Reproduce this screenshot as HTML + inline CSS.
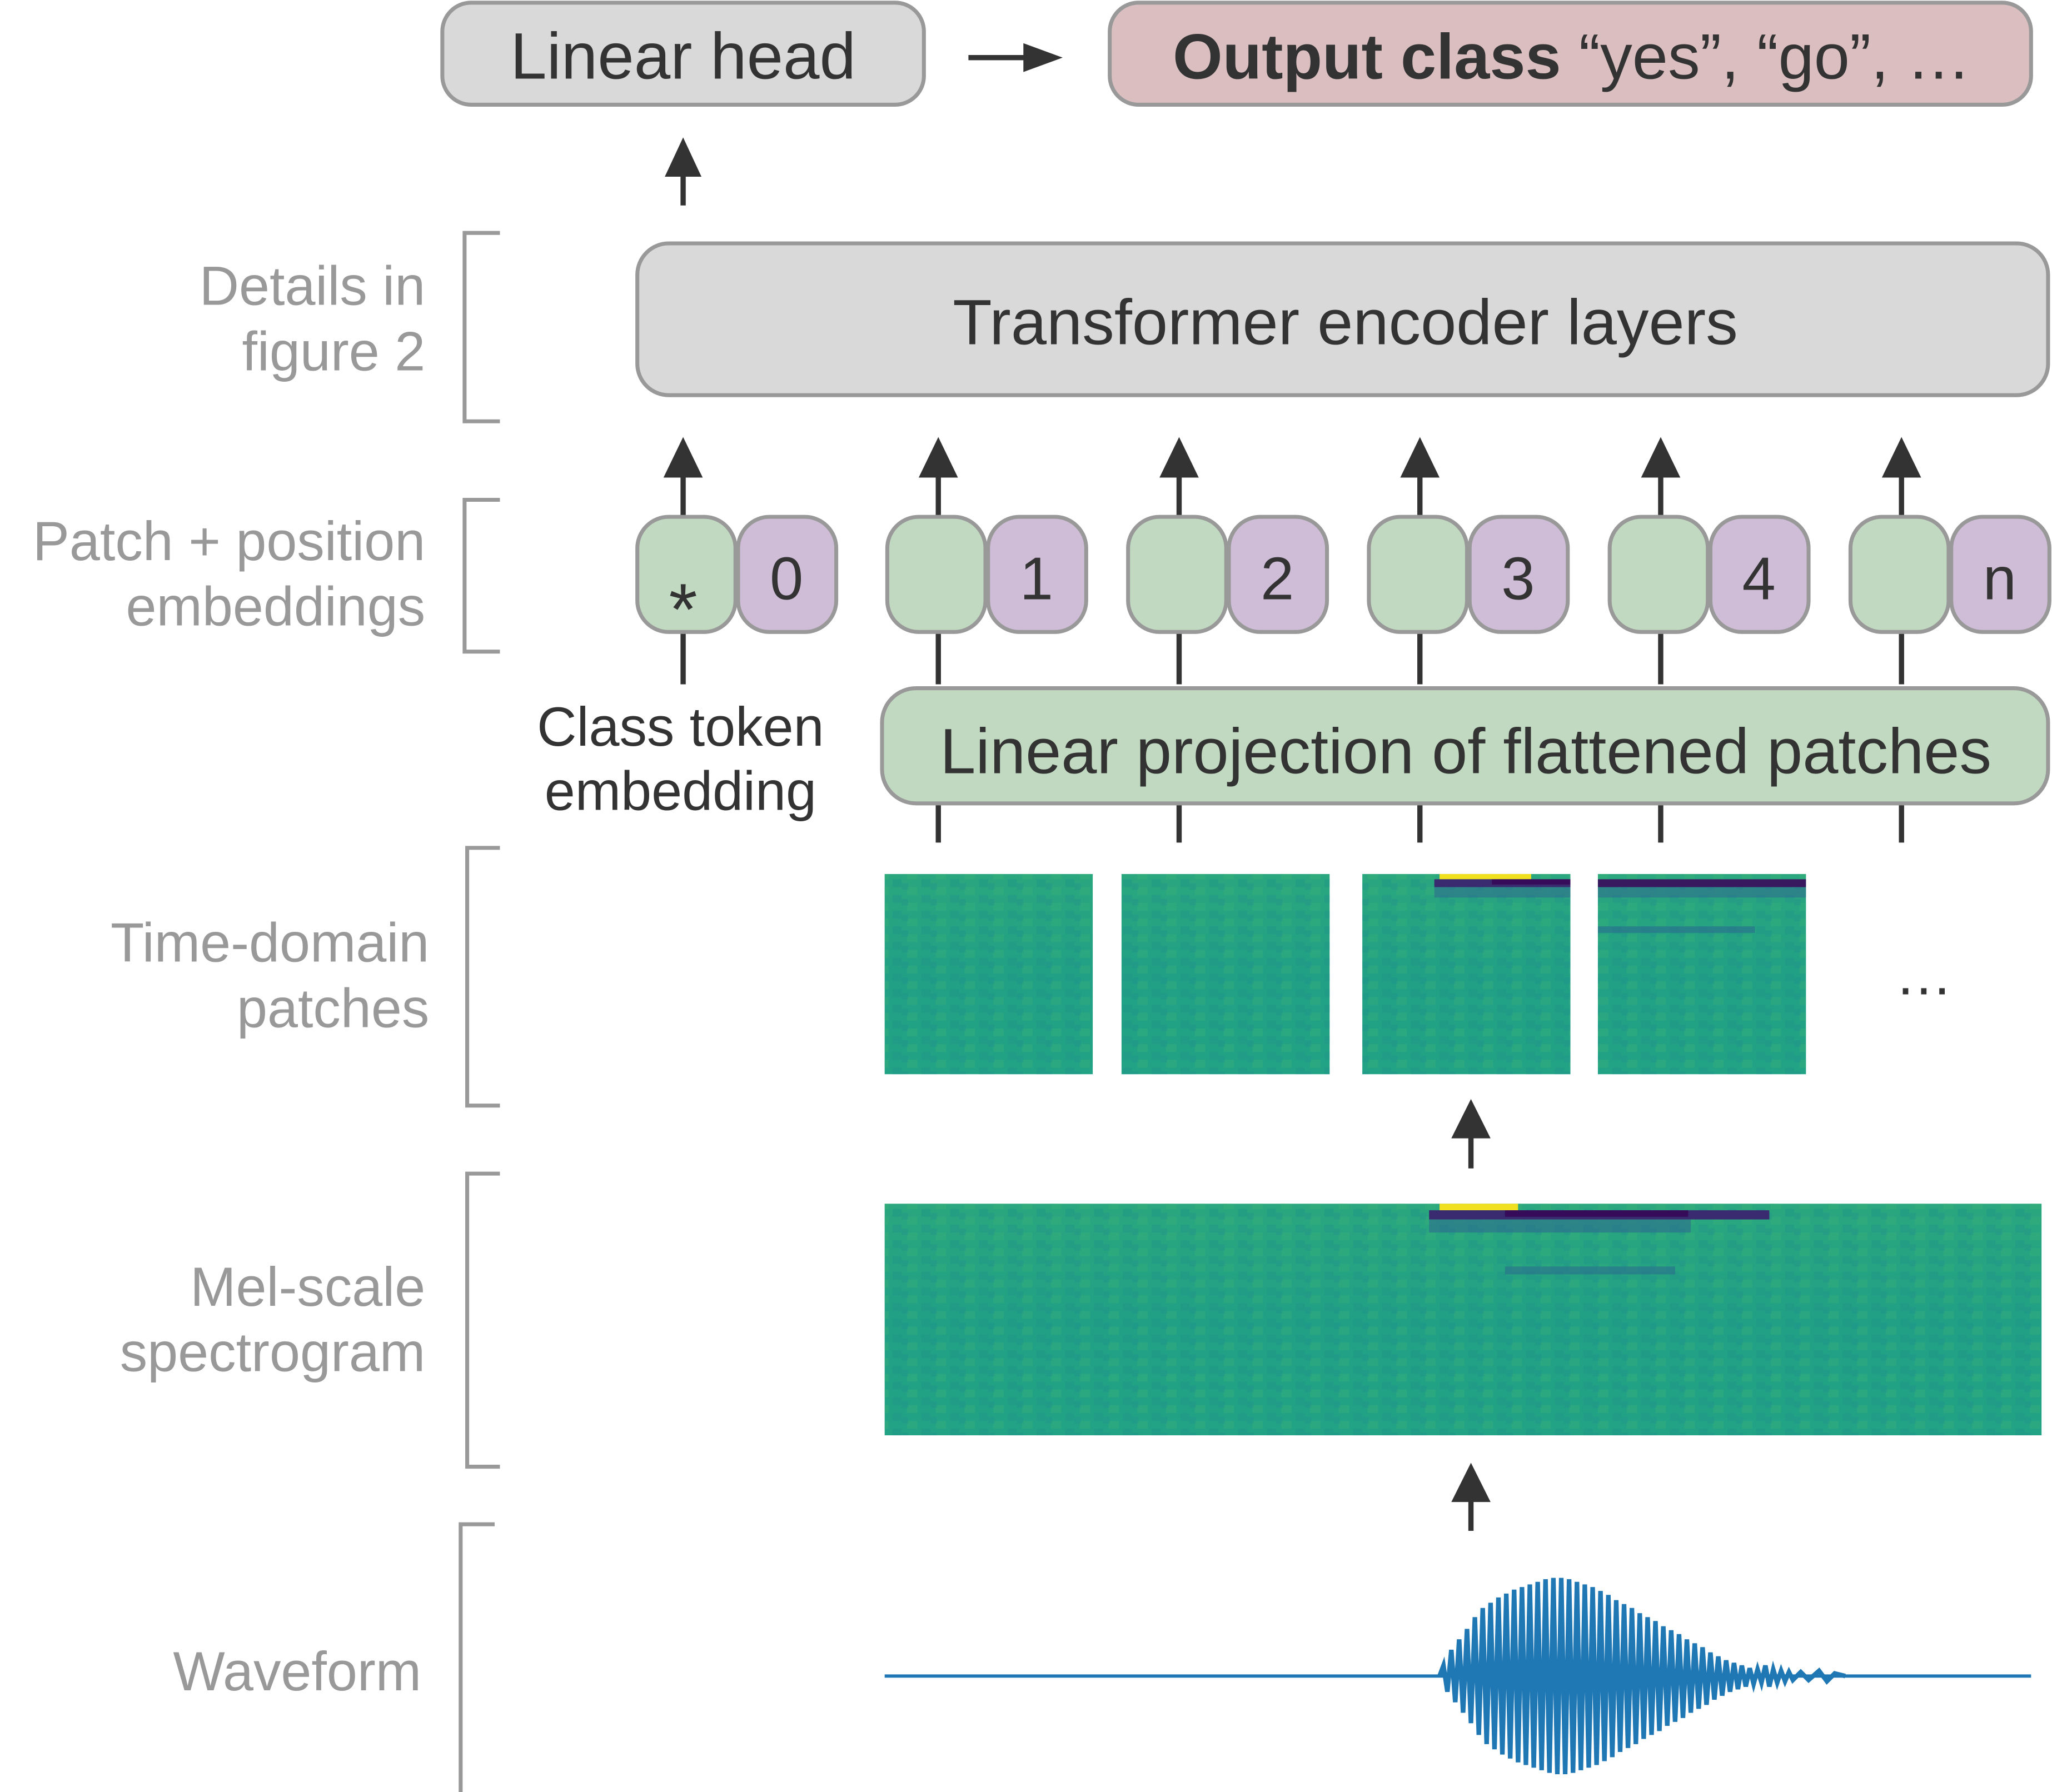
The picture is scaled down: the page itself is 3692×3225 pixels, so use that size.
<!DOCTYPE html>
<html><head><meta charset="utf-8"><style>
html,body{margin:0;padding:0;background:#fff}
svg{display:block}
text{font-family:"Liberation Sans",sans-serif}
</style></head><body>
<svg width="3692" height="3225" viewBox="0 0 1568 1369.6" xmlns="http://www.w3.org/2000/svg">
<defs>
<linearGradient id="sg" x1="0" y1="0" x2="0" y2="1">
<stop offset="0" stop-color="#2aa77e"/><stop offset="0.5" stop-color="#21a085"/><stop offset="1" stop-color="#22a385"/>
</linearGradient>
<pattern id="nz" width="22" height="12" patternUnits="userSpaceOnUse">
<rect width="22" height="12" fill="none"/>
<rect x="0" y="0" width="7" height="6" fill="#1f9688" opacity="0.5"/>
<rect x="11" y="6" width="8" height="6" fill="#35b07a" opacity="0.45"/>
<rect x="7" y="3" width="5" height="5" fill="#1e8f8b" opacity="0.35"/>
</pattern>
</defs>
<g fill="#999" font-size="42" text-anchor="end">
<text x="325" y="233">Details in</text>
<text x="325" y="283">figure 2</text>
<text x="325" y="428">Patch + position</text>
<text x="325" y="478">embeddings</text>
<text x="328" y="735">Time-domain</text>
<text x="328" y="785">patches</text>
<text x="325" y="998">Mel-scale</text>
<text x="325" y="1048">spectrogram</text>
<text x="322" y="1292">Waveform</text>
</g>
<g fill="none" stroke="#999" stroke-width="3">
<path d="M382,178 H355 V322 H382"/>
<path d="M382,382 H355 V498 H382"/>
<path d="M382,648 H357 V845 H382"/>
<path d="M382,897 H357 V1121 H382"/>
<path d="M378,1165 H352 V1370"/>
</g>
<rect x="338" y="2" width="368" height="78" rx="22" fill="#d9d9d9" stroke="#999" stroke-width="3"/>
<text x="522" y="60" font-size="50" fill="#333" text-anchor="middle">Linear head</text>
<rect x="848" y="2" width="704" height="78" rx="22" fill="#dbbfc0" stroke="#999" stroke-width="3"/>
<text x="1201" y="60" font-size="49" fill="#333" text-anchor="middle"><tspan font-weight="bold">Output class</tspan> “yes”, “go”, …</text>
<g stroke="#333" stroke-width="4" fill="#333">
<line x1="740" y1="44" x2="785" y2="44"/><path d="M782,33 L812,44 L782,55 Z" stroke="none"/>
<line x1="522" y1="157" x2="522" y2="130"/><path d="M508,135 L522,105 L536,135 Z" stroke="none"/>
</g>
<rect x="487" y="186" width="1078" height="116" rx="24" fill="#d9d9d9" stroke="#999" stroke-width="3"/>
<text x="1028" y="263" font-size="49" fill="#333" text-anchor="middle">Transformer encoder layers</text>
<g stroke="#333" stroke-width="4" fill="#333">
<g id="ar"><line x1="522" y1="395" x2="522" y2="360"/><path d="M507,365 L522,334 L537,365 Z" stroke="none"/><line x1="522" y1="483" x2="522" y2="523"/></g>
<use href="#ar" x="195"/><use href="#ar" x="379"/><use href="#ar" x="563"/><use href="#ar" x="747"/><use href="#ar" x="931"/>
<line x1="717" y1="614" x2="717" y2="644"/><line x1="901" y1="614" x2="901" y2="644"/><line x1="1085" y1="614" x2="1085" y2="644"/><line x1="1269" y1="614" x2="1269" y2="644"/><line x1="1453" y1="614" x2="1453" y2="644"/>
<line x1="1124" y1="893" x2="1124" y2="865"/><path d="M1109,870 L1124,840 L1139,870 Z" stroke="none"/>
<line x1="1124" y1="1170" x2="1124" y2="1143"/><path d="M1109,1148 L1124,1118 L1139,1148 Z" stroke="none"/>
</g>
<g stroke="#999" stroke-width="3">
<rect x="487" y="395" width="75" height="88" rx="24" fill="#c0d9c0"/><rect x="564" y="395" width="75" height="88" rx="24" fill="#cfbdd7"/>
<rect x="678" y="395" width="75" height="88" rx="24" fill="#c0d9c0"/><rect x="755" y="395" width="75" height="88" rx="24" fill="#cfbdd7"/>
<rect x="862" y="395" width="75" height="88" rx="24" fill="#c0d9c0"/><rect x="939" y="395" width="75" height="88" rx="24" fill="#cfbdd7"/>
<rect x="1046" y="395" width="75" height="88" rx="24" fill="#c0d9c0"/><rect x="1123" y="395" width="75" height="88" rx="24" fill="#cfbdd7"/>
<rect x="1230" y="395" width="75" height="88" rx="24" fill="#c0d9c0"/><rect x="1307" y="395" width="75" height="88" rx="24" fill="#cfbdd7"/>
<rect x="1414" y="395" width="75" height="88" rx="24" fill="#c0d9c0"/><rect x="1491" y="395" width="75" height="88" rx="24" fill="#cfbdd7"/>
</g>
<g font-size="46" fill="#333" text-anchor="middle">
<text x="522" y="485" font-size="56">*</text>
<text x="601" y="458">0</text><text x="792" y="458">1</text><text x="976" y="458">2</text><text x="1160" y="458">3</text><text x="1344" y="458">4</text><text x="1528" y="458">n</text>
</g>
<text x="520" y="570" font-size="42" fill="#333" text-anchor="middle">Class token</text>
<text x="520" y="619" font-size="42" fill="#333" text-anchor="middle">embedding</text>
<rect x="674" y="526" width="891" height="88" rx="26" fill="#c0d9c0" stroke="#999" stroke-width="3"/>
<text x="1120" y="591" font-size="49" fill="#333" text-anchor="middle">Linear projection of flattened patches</text>
<g>
<rect x="676" y="668" width="159" height="153" fill="url(#sg)"/><rect x="676" y="668" width="159" height="153" fill="url(#nz)"/>
<rect x="857" y="668" width="159" height="153" fill="url(#sg)"/><rect x="857" y="668" width="159" height="153" fill="url(#nz)"/>
<rect x="1041" y="668" width="159" height="153" fill="url(#sg)"/><rect x="1041" y="668" width="159" height="153" fill="url(#nz)"/>
<rect x="1221" y="668" width="159" height="153" fill="url(#sg)"/><rect x="1221" y="668" width="159" height="153" fill="url(#nz)"/>
<rect x="1100" y="668" width="70" height="4" fill="#f0e020"/>
<rect x="1096" y="672" width="104" height="6" fill="#3a2a70"/><rect x="1140" y="672" width="60" height="4" fill="#360c5a"/>
<rect x="1096" y="678" width="104" height="8" fill="#2f6d8e" opacity="0.6"/>
<rect x="1221" y="672" width="159" height="6" fill="#38185e"/>
<rect x="1221" y="678" width="159" height="8" fill="#2f6d8e" opacity="0.6"/>
<rect x="1221" y="708" width="120" height="5" fill="#2c6c8e" opacity="0.6"/>
<rect x="676" y="920" width="884" height="177" fill="url(#sg)"/><rect x="676" y="920" width="884" height="177" fill="url(#nz)"/>
<rect x="1100" y="920" width="60" height="5" fill="#f0e020"/>
<rect x="1092" y="925" width="260" height="7" fill="#3a2a70"/><rect x="1150" y="925" width="140" height="5" fill="#360c5a"/>
<rect x="1092" y="932" width="200" height="10" fill="#2f6d8e" opacity="0.6"/>
<rect x="1150" y="968" width="130" height="6" fill="#2c6c8e" opacity="0.6"/>
</g>
<text x="1472" y="760" font-size="44" fill="#333" text-anchor="middle" letter-spacing="4">…</text>
<line x1="676" y1="1281" x2="1552" y2="1281" stroke="#1f77b4" stroke-width="2.5"/>
<path fill="none" stroke="#1f77b4" stroke-width="3.5" d="M1100,1281 L1103,1273 L1106,1293 L1109,1261 L1112,1301 L1115,1253 L1118,1309 L1121,1245 L1124,1317 L1127,1236 L1130,1326 L1133,1229 L1136,1333 L1139,1225 L1142,1337 L1145,1221 L1148,1341 L1151,1218 L1154,1344 L1157,1215 L1160,1347 L1163,1213 L1166,1349 L1169,1211 L1172,1351 L1175,1209 L1178,1353 L1181,1207 L1184,1355 L1187,1206 L1190,1356 L1193,1206 L1196,1356 L1199,1207 L1202,1355 L1205,1209 L1208,1353 L1211,1211 L1214,1351 L1217,1213 L1220,1349 L1223,1216 L1226,1346 L1229,1219 L1232,1343 L1235,1223 L1238,1339 L1241,1226 L1244,1336 L1247,1229 L1250,1333 L1253,1233 L1256,1329 L1259,1236 L1262,1326 L1265,1239 L1268,1323 L1271,1243 L1274,1319 L1277,1246 L1280,1316 L1283,1249 L1286,1313 L1289,1253 L1292,1309 L1295,1256 L1298,1306 L1301,1259 L1304,1303 L1307,1263 L1310,1299 L1313,1266 L1316,1296 L1319,1269 L1322,1293 L1325,1271 L1328,1291 L1331,1273 L1334,1289 L1337,1275 L1340,1287 L1343,1276 L1346,1286 L1349,1273 L1352,1289 L1355,1276 L1358,1286 L1361,1277 L1364,1285 L1367,1278 L1370,1284 L1376,1278 L1382,1284 L1390,1277 L1396,1285 L1402,1279 L1410,1281"/>
</svg>
</body></html>
